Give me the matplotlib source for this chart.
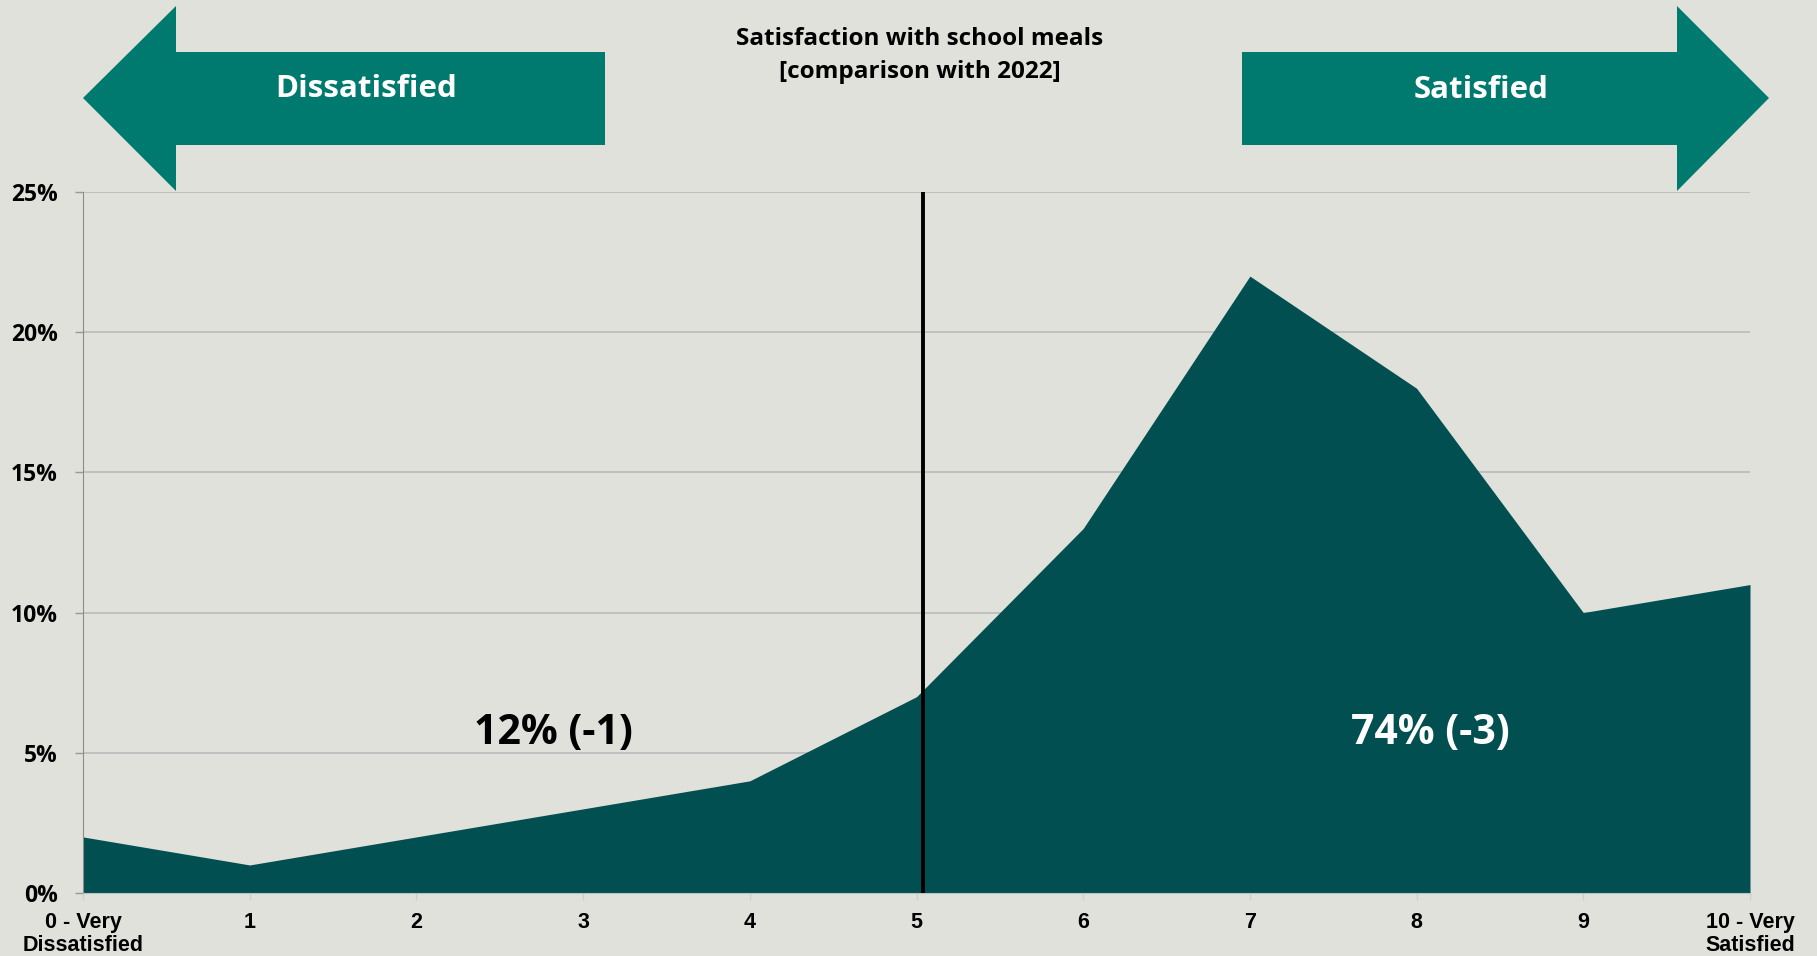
import matplotlib
matplotlib.use("Agg")
import matplotlib.pyplot as plt
from matplotlib.patches import Polygon
from matplotlib.ticker import PercentFormatter

# data
scores = [0, 1, 2, 3, 4, 5, 6, 7, 8, 9, 10]
score_labels = ["0 - Very\nDissatisfied", "1", "2", "3", "4", "5", "6", "7", "8", "9",
                "10 - Very\nSatisfied"]
share = [2, 1, 2, 3, 4, 7, 13, 22, 18, 10, 11]
dissatisfied_txt = "12% (-1)"
satisfied_txt = "74% (-3)"

BG = "#e0e1da"
AREA = "#024f51"
ARROW = "#007a6e"
GRID = "#c0c0c0"
FONT = "Open Sans"

W, H = 1817, 956
fig = plt.figure(figsize=(W / 100, H / 100), dpi=100, facecolor=BG)

ax = fig.add_axes([83 / W, 1 - 893 / H, (1750 - 83) / W, (893 - 192) / H])
ax.set_facecolor("none")
ax.fill_between(scores, share, color=AREA, lw=0, zorder=2)
ax.set_xlim(0, 10)
ax.set_ylim(0, 25)
ax.set_yticks([0, 5, 10, 15, 20, 25])
ax.yaxis.set_major_formatter(PercentFormatter(decimals=0))
ax.set_xticks(scores)
ax.set_xticklabels(score_labels, family="Liberation Sans", fontweight="bold",
                   fontsize=15.5, linespacing=1.1)
for t in ax.get_yticklabels():
    t.set_family(FONT)
    t.set_fontweight("bold")
    t.set_fontsize(16.5)
ax.grid(axis="y", color=GRID, lw=1.4, zorder=0)
ax.tick_params(axis="y", length=6, color="#999999", pad=12, width=1)
ax.tick_params(axis="x", length=5, color="#cfd0cb", pad=9, width=1)
for s in ["top", "right"]:
    ax.spines[s].set_visible(False)
ax.spines["left"].set_color("#8c8c8c")
ax.spines["bottom"].set_color("#b9c3c6")

# divider between dissatisfied / satisfied
ax.axvline(5.04, ymin=0, ymax=1, color="black", lw=2.8, zorder=3)

ax.text(2.82, 5.7, dissatisfied_txt, ha="center", va="center", fontsize=29.5,
        fontweight="bold", family=FONT, color="black", zorder=4)
ax.text(8.08, 5.7, satisfied_txt, ha="center", va="center", fontsize=29.5,
        fontweight="bold", family=FONT, color="white", zorder=4)

# overlay in pixel coordinates for arrows and title
ov = fig.add_axes([0, 0, 1, 1], zorder=-1)
ov.set_xlim(0, W)
ov.set_ylim(H, 0)
ov.axis("off")

left_arrow = [(83, 98), (176, 6), (176, 52), (605, 52), (605, 145), (176, 145), (176, 191)]
right_arrow = [(1769, 98), (1677, 6), (1677, 52), (1242, 52), (1242, 145), (1677, 145), (1677, 191)]
ov.add_patch(Polygon(left_arrow, closed=True, facecolor=ARROW, edgecolor="none"))
ov.add_patch(Polygon(right_arrow, closed=True, facecolor=ARROW, edgecolor="none"))
ov.text(366, 88.5, "Dissatisfied", ha="center", va="center", fontsize=22.5,
        fontweight="bold", family=FONT, color="white")
ov.text(1481, 89.5, "Satisfied", ha="center", va="center", fontsize=22.5,
        fontweight="bold", family=FONT, color="white")

ov.text(920, 55, "Satisfaction with school meals\n[comparison with 2022]",
        ha="center", va="center", fontsize=17.5, fontweight="bold", family=FONT,
        color="black", linespacing=1.5)

fig.savefig("out.png", dpi=100, facecolor=BG)
